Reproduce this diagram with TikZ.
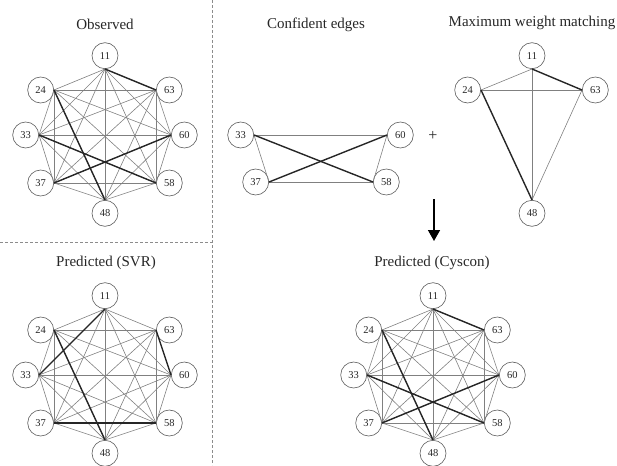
\documentclass[tikz,border=0pt]{standalone}
\usepackage{fontspec}
\setmainfont{Liberation Serif}
\usetikzlibrary{arrows.meta}

\tikzset{
  vertex/.style={circle, draw=black!65, line width=0.6pt, minimum size=26pt,
    inner sep=0pt, text=black!85, font=\fontsize{10.5}{12}\selectfont},
  weak/.style={draw=black!50, line width=0.6pt},
  strong/.style={draw=black!85, line width=1.4pt},
  caption/.style={font=\fontsize{15}{18}\selectfont, text=black!85},
  divider/.style={draw=black!45, line width=0.7pt, dash pattern=on 3pt off 2pt}
}

% ring of eight residues, every pair joined
\newcommand{\ringgraph}[2]{%
  \begin{scope}[shift={(#2)}]
    \foreach \n/\x/\y/\a in {11/0/-66/south, 24/-51/-45/east, 63/51/-45/west,
        33/-66/0/east, 60/66/0/west, 37/-51/48/east, 58/51/48/west, 48/0/65/north}
      \node[vertex, anchor=\a] (#1\n) at (\x,\y) {\n};
  \end{scope}
  \foreach \u/\ua [count=\i] in {11/south,24/east,63/west,33/east,60/west,37/east,58/west,48/north}
    \foreach \v/\va [count=\j] in {11/south,24/east,63/west,33/east,60/west,37/east,58/west,48/north}
      {\ifnum\j>\i \draw[weak] (#1\u.\ua) -- (#1\v.\va);\fi}
}

\begin{document}
\begin{tikzpicture}[x=1pt, y=-1pt]
    \useasboundingbox (0,0) rectangle (617,465);

    % dividers
    \coordinate (vtop) at (212,0);
    \coordinate (vbot) at (212,465);
    \coordinate (hleft) at (0,242);
    \coordinate (hright) at (212,242);
    \draw[divider] (vtop) -- (vbot);
    \draw[divider] (hleft) -- (hright);

    % observed
    \node[caption] (tobs) at (105,24) {Observed};
    \ringgraph{o}{105,135}
    \draw[strong] (o11.south) -- (o63.west);
    \draw[strong] (o24.east) -- (o48.north);
    \draw[strong] (o33.east) -- (o58.west);
    \draw[strong] (o37.east) -- (o60.west);

    % confident edges
    \node[caption] (tconf) at (316,25) {Confident edges};
    \node[vertex, anchor=east] (c33) at (254,135) {33};
    \node[vertex, anchor=west] (c60) at (387,135) {60};
    \node[vertex, anchor=east] (c37) at (269,182) {37};
    \node[vertex, anchor=west] (c58) at (373,182) {58};
    \draw[weak] (c33.east) -- (c60.west);
    \draw[weak] (c33.east) -- (c37.east);
    \draw[weak] (c60.west) -- (c58.west);
    \draw[weak] (c37.east) -- (c58.west);
    \draw[strong] (c33.east) -- (c58.west);
    \draw[strong] (c37.east) -- (c60.west);

    \node[font=\fontsize{16}{18}\selectfont, text=black!85] (plus) at (433,136) {+};

    % maximum weight matching
    \node[caption] (tmwm) at (532,23) {Maximum weight matching};
    \node[vertex, anchor=south] (m11) at (532,69) {11};
    \node[vertex, anchor=east] (m24) at (481,90) {24};
    \node[vertex, anchor=west] (m63) at (582,90) {63};
    \node[vertex, anchor=north] (m48) at (532,200) {48};
    \draw[weak] (m11.south) -- (m24.east);
    \draw[weak] (m24.east) -- (m63.west);
    \draw[weak] (m11.south) -- (m48.north);
    \draw[weak] (m63.west) -- (m48.north);
    \draw[strong] (m11.south) -- (m63.west);
    \draw[strong] (m24.east) -- (m48.north);

    \coordinate (atop) at (434,199);
    \coordinate (atip) at (434,241);
    \draw[line width=1.5pt, -{Triangle[width=12pt, length=11pt]}] (atop) -- (atip);

    % predicted (SVR)
    \node[caption] (tsvr) at (106,263) {Predicted (SVR)};
    \ringgraph{s}{105,375}
    \draw[strong] (s11.south) -- (s33.east);
    \draw[strong] (s24.east) -- (s48.north);
    \draw[strong] (s63.west) -- (s60.west);
    \draw[strong] (s37.east) -- (s58.west);

    % predicted (Cyscon)
    \node[caption] (tcys) at (432,263) {Predicted (Cyscon)};
    \ringgraph{p}{433,375}
    \draw[strong] (p11.south) -- (p63.west);
    \draw[strong] (p24.east) -- (p48.north);
    \draw[strong] (p33.east) -- (p58.west);
    \draw[strong] (p37.east) -- (p60.west);
\end{tikzpicture}
\end{document}
